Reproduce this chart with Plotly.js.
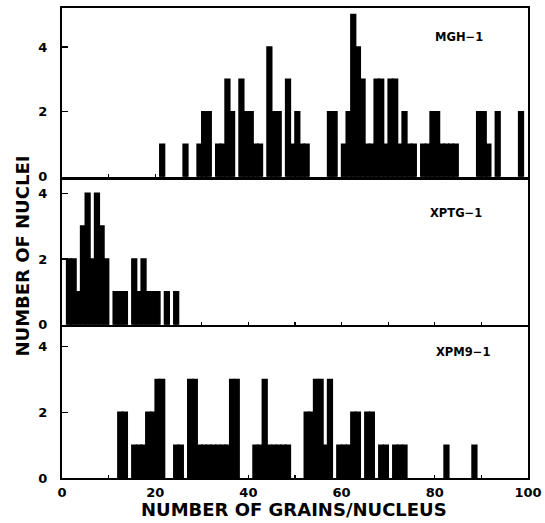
<!DOCTYPE html>
<html>
<head>
<meta charset="utf-8">
<script src="https://cdn.plot.ly/plotly-3.0.1.min.js"></script>
<style>html,body{margin:0;padding:0;background:#fff;}#chart{width:545px;height:523px;}</style>
</head>
<body>
<div id="chart"></div>
<script>
// Grain-count bins (left edge of each 1-grain bin) and number of nuclei
const mghGrains = [21,26,29,30,31,33,34,35,36,38,39,40,41,42,44,45,46,48,49,50,51,52,57,58,60,61,62,63,64,65,66,67,68,69,70,71,72,73,74,75,77,78,79,80,81,82,83,84,89,90,91,93,98];
const mghCounts = [1,1,1,2,2,1,1,3,2,3,2,2,1,1,4,2,2,3,1,2,1,1,2,2,1,2,5,4,3,1,1,3,3,1,3,3,1,2,1,1,1,1,2,2,1,1,1,1,2,2,1,2,2];

const xptgGrains = [1,2,3,4,5,6,7,8,9,11,12,13,15,16,17,18,19,20,22,24];
const xptgCounts = [2,2,1,3,4,2,4,3,2,1,1,1,2,1,2,1,1,1,1,1];

const xpm9Grains = [12,13,15,16,17,18,19,20,21,24,25,27,28,29,30,31,32,33,34,35,36,37,41,42,43,44,45,46,47,48,52,53,54,55,56,57,59,60,61,62,63,65,66,68,69,71,72,73,82,88];
const xpm9Counts = [2,2,1,1,1,2,2,3,3,1,1,3,3,1,1,1,1,1,1,1,3,3,1,1,3,1,1,1,1,1,2,2,3,3,1,3,1,1,1,2,2,2,2,1,1,1,1,1,1,1];

const panelNames = ["MGH\u22121", "XPTG\u22121", "XPM9\u22121"];
const xTickVals = [0,20,40,60,80,100];
const yTickVals = [0,2,4];
const xTitle = "NUMBER OF GRAINS/NUCLEUS";
const yTitle = "NUMBER OF NUCLEI";

const FONT = "DejaVu Sans, Liberation Sans, sans-serif";

function barTrace(x, y, xa, ya) {
  return {
    type: "bar", x: x, y: y, xaxis: xa, yaxis: ya,
    width: 1, offset: 0,
    marker: {color: "#000", line: {color: "#000", width: 1.6}},
    hoverinfo: "x+y", showlegend: false
  };
}

const data = [
  barTrace(mghGrains, mghCounts, "x", "y"),
  barTrace(xptgGrains, xptgCounts, "x2", "y2"),
  barTrace(xpm9Grains, xpm9Counts, "x3", "y3")
];

const tickFont = {family: FONT, size: 13, color: "#000", weight: "bold"};

function xAxis(anchor, showLabels) {
  return {
    anchor: anchor, domain: [0, 1], range: [0, 100], showline: true, mirror: true, linewidth: 2, linecolor: "#000",
    showgrid: false, zeroline: false, ticks: "inside", ticklen: 3, tickwidth: 1.2, tickcolor: "#000",
    tickvals: xTickVals, showticklabels: showLabels,
    minor: {dtick: 10, tick0: 0, ticks: "inside", ticklen: 3, tickwidth: 1.2, tickcolor: "#000"},
    tickfont: tickFont, ticklabelstandoff: 1, fixedrange: true
  };
}
function yAxis(anchor, top, domain) {
  return {
    anchor: anchor, domain: domain, range: [0, top], showline: true, mirror: true, linewidth: 2, linecolor: "#000",
    showgrid: false, zeroline: false, ticks: "inside", ticklen: 6, tickwidth: 1.2, tickcolor: "#000",
    tickvals: yTickVals, tickfont: tickFont, ticklabelstandoff: 10, fixedrange: true
  };
}

const labelFont = {family: FONT, size: 11.5, color: "#000", weight: "bold"};
const titleFont = {family: FONT, size: 18, color: "#000", weight: "bold"};

const layout = {
  width: 545, height: 523,
  margin: {l: 62, r: 17, t: 8, b: 45},
  paper_bgcolor: "#fff", plot_bgcolor: "#fff",
  bargap: 0,
  xaxis: xAxis("y", false),
  xaxis2: xAxis("y2", false),
  xaxis3: xAxis("y3", true),
  yaxis: yAxis("x", 5.2, [0.641, 1]),
  yaxis2: yAxis("x2", 4.4, [0.326, 0.634]),
  yaxis3: yAxis("x3", 4.6, [0, 0.321]),
  annotations: [
    {xref: "x", yref: "y", x: 85.2, y: 4.3, text: panelNames[0], showarrow: false, font: labelFont},
    {xref: "x2", yref: "y2", x: 84.5, y: 3.4, text: panelNames[1], showarrow: false, font: labelFont},
    {xref: "x3", yref: "y3", x: 86.0, y: 3.85, text: panelNames[2], showarrow: false, font: labelFont},
    {xref: "paper", yref: "paper", x: 0.497, y: -0.066, yanchor: "middle", text: xTitle, showarrow: false, font: titleFont},
    {xref: "paper", yref: "paper", x: -0.085, xanchor: "center", y: 0.472, yanchor: "middle", textangle: -90, text: yTitle, showarrow: false, font: titleFont}
  ]
};

Plotly.newPlot("chart", data, layout, {displayModeBar: false, staticPlot: true});
</script>
</body>
</html>
